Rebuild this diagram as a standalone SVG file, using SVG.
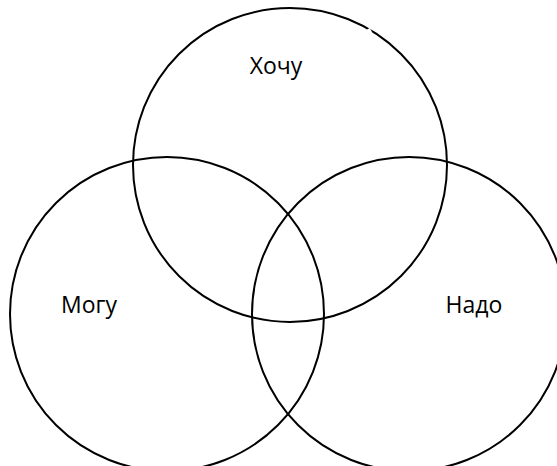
<svg xmlns="http://www.w3.org/2000/svg" width="557" height="466" viewBox="0 0 557 466">
<style>
.c{fill:none;stroke:#000;stroke-width:2}
.t{font-family:"Open Sans","Liberation Sans",sans-serif;font-size:23px;fill:#000;text-anchor:middle}
</style>
<rect width="557" height="466" fill="#fff"/>
<g id="want">
<circle class="c" cx="290" cy="165" r="157"/>
<line x1="368" y1="29" x2="373" y2="38" stroke="#fff" stroke-width="4"/>
<text class="t" x="276" y="74">Хочу</text>
</g>
<g id="can">
<circle class="c" cx="167" cy="314" r="157"/>
<text class="t" x="89" y="313">Могу</text>
</g>
<g id="need">
<circle class="c" cx="409" cy="314" r="157"/>
<text class="t" x="474" y="313">Надо</text>
</g>
<g id="connectors"/>
</svg>
